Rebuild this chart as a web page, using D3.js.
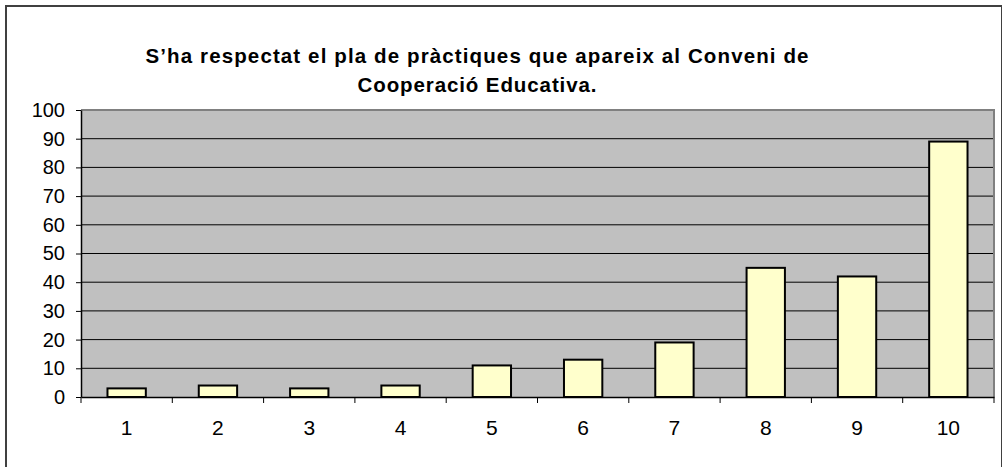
<!DOCTYPE html>
<html>
<head>
<meta charset="utf-8">
<script src="https://cdn.jsdelivr.net/npm/d3@7"></script>
<style>
	body { margin: 0; background: #fff; }
	text { font-family: Arial, "Liberation Sans", sans-serif; }
</style>
</head>
<body>
<div id="chart"></div>
<script>
// data
var categories = ['1', '2', '3', '4', '5', '6', '7', '8', '9', '10'];
var values = [3, 4, 3, 4, 11, 13, 19, 45, 42, 89];
var yTicks = [0, 10, 20, 30, 40, 50, 60, 70, 80, 90, 100];
var titleLines = ['S\u2019ha respectat el pla de pràctiques que apareix al Conveni de', 'Cooperació Educativa.'];

//Width and height
var w = 1002;
var h = 467;
var plot = {left: 81, top: 110, right: 994, bottom: 397};

var svg = d3.select('#chart')
	.append('svg')
	.attr('width', w)
	.attr('height', h);

// outer frame (right and bottom fall off the picture)
svg.append('rect')
	.attr('x', 6)
	.attr('y', 6)
	.attr('width', 996)
	.attr('height', 464)
	.attr('fill', '#fff')
	.attr('stroke', '#404040')
	.attr('stroke-width', 2);

var x = d3.scaleBand()
	.domain(categories)
	.range([plot.left, plot.right])
	.padding(0);

var y = d3.scaleLinear()
	.domain([0, 100])
	.range([plot.bottom, plot.top]);

// plot area background
svg.append('rect')
	.attr('x', plot.left)
	.attr('y', plot.top)
	.attr('width', plot.right - plot.left)
	.attr('height', plot.bottom - plot.top)
	.attr('fill', '#c0c0c0');

// grid lines
svg.selectAll('line.grid')
	.data(yTicks.filter(function(d) { return d > 0 && d < 100; }))
	.enter()
	.append('line')
	.attr('class', 'grid')
	.attr('x1', plot.left)
	.attr('x2', plot.right)
	.attr('y1', function(d) { return y(d); })
	.attr('y2', function(d) { return y(d); })
	.attr('stroke', '#000')
	.attr('stroke-width', 1);

// gray border on top and right of the plot area
svg.append('path')
	.attr('d', 'M' + plot.left + ',' + y(100) + 'H' + plot.right + 'V' + plot.bottom)
	.attr('fill', 'none')
	.attr('stroke', '#808080')
	.attr('stroke-width', 2);

// bars
var barWidth = x.bandwidth() * 0.42;
svg.selectAll('rect.bar')
	.data(values)
	.enter()
	.append('rect')
	.attr('class', 'bar')
	.attr('x', function(d, i) {
		return x(categories[i]) + (x.bandwidth() - barWidth) / 2;
	})
	.attr('y', function(d) { return y(d); })
	.attr('width', barWidth)
	.attr('height', function(d) { return y(0) - y(d); })
	.attr('fill', '#ffffcc')
	.attr('stroke', '#000')
	.attr('stroke-width', 2);

// y axis
var yAxis = svg.append('g')
	.attr('transform', 'translate(' + plot.left + ',0)')
	.call(d3.axisLeft(y).tickValues(yTicks).tickSize(5).tickPadding(11).tickSizeOuter(0));
yAxis.select('.domain').attr('stroke', '#000').attr('stroke-width', 1.5);
yAxis.selectAll('.tick line').attr('stroke', '#000');
yAxis.selectAll('text')
	.attr('font-size', '20px')
	.attr('font-family', 'Arial, "Liberation Sans", sans-serif')
	.attr('fill', '#000');

// x axis, labels in the middle of each category
var xAxis = svg.append('g')
	.attr('transform', 'translate(0,' + plot.bottom + ')')
	.call(d3.axisBottom(x).tickSize(0).tickPadding(23).tickSizeOuter(0));
xAxis.select('.domain').attr('stroke', '#000').attr('stroke-width', 1.5);
xAxis.selectAll('text')
	.attr('font-size', '21px')
	.attr('font-family', 'Arial, "Liberation Sans", sans-serif')
	.attr('fill', '#000');

// ticks between categories
var edges = categories.map(function(c) { return x(c); }).concat([x.range()[1]]);
svg.selectAll('line.xtick')
	.data(edges)
	.enter()
	.append('line')
	.attr('class', 'xtick')
	.attr('x1', function(d) { return d; })
	.attr('x2', function(d) { return d; })
	.attr('y1', plot.bottom)
	.attr('y2', plot.bottom + 6)
	.attr('stroke', '#000')
	.attr('stroke-width', 1);

// title
var titleWidths = [663, 239];
var titleY = [62.5, 91.7];
svg.selectAll('text.title')
	.data(titleLines)
	.enter()
	.append('text')
	.attr('class', 'title')
	.attr('x', 477)
	.attr('y', function(d, i) { return titleY[i]; })
	.attr('text-anchor', 'middle')
	.attr('font-size', '20.5px')
	.attr('font-weight', 'bold')
	.attr('textLength', function(d, i) { return titleWidths[i]; })
	.attr('lengthAdjust', 'spacing')
	.text(function(d) { return d; });
</script>
</body>
</html>
